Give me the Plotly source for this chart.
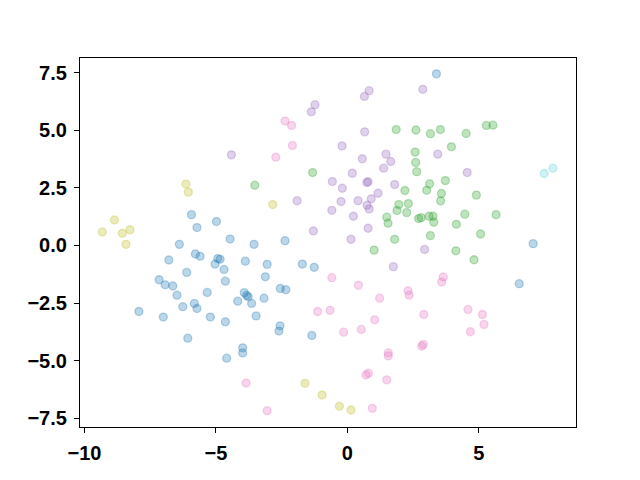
import plotly.graph_objects as go

# cluster points
blue_x = [-5.93, -5.72, -4.98, -4.46, -6.39, -3.55, -2.37, -5.78, -5.60, -6.79, -4.93, -4.84,
          -5.03, -3.88, -4.69, -6.11, -7.16, -6.93, -6.64, -4.64, -6.48, -5.33, -3.92, -3.83,
          -4.17, -6.26, -5.82, -5.72, -7.93, -7.00, -5.21, -4.64, -6.07, -3.98, -3.98, -4.59,
          -3.05, -3.12, -1.71, -1.26, -3.77, -3.64, -3.17, -2.55, -2.34, -3.47, -2.56, -2.60,
          -1.35, 3.39, 7.07, 6.54]
blue_y = [1.34, 0.78, 1.04, 0.28, 0.05, 0.05, 0.21, -0.37, -0.47, -0.63, -0.57, -0.60,
          -0.81, -0.68, -1.04, -1.17, -1.49, -1.71, -1.76, -1.55, -2.16, -2.04, -2.05, -2.17,
          -2.42, -2.66, -2.52, -2.74, -2.87, -3.11, -3.11, -3.32, -4.03, -4.45, -4.67, -4.90,
          -0.82, -1.36, -0.81, -0.95, -2.23, -2.52, -2.29, -1.87, -1.92, -3.06, -3.49, -3.72,
          -3.91, 7.46, 0.08, -1.66]

green_x = [-3.52, 1.86, -1.32, 2.19, 1.96, 1.89, 2.32, 2.26, 1.50, 1.55, 1.80, 2.61, 3.16,
           3.54, 4.52, 5.29, 5.54, 3.96, 2.58, 2.60, 2.64, 3.73, 3.13, 3.02, 3.58, 3.55, 4.91,
           2.71, 2.81, 3.11, 3.26, 3.29, 4.47, 5.66, 4.15, 3.16, 5.07, 1.02, 4.13, 4.82]
green_y = [2.62, 5.04, 3.17, 2.39, 1.78, 1.52, 1.82, 1.43, 1.23, 0.97, 0.27, 5.02, 4.86,
           5.04, 4.87, 5.22, 5.23, 4.29, 4.06, 3.61, 3.21, 2.82, 2.68, 2.40, 2.26, 1.94, 2.19,
           1.17, 1.21, 1.27, 1.27, 1.01, 1.36, 1.34, 0.92, 0.43, 0.50, -0.20, -0.23, -0.62]

purple_x = [-4.41, 0.83, 0.65, -1.23, -1.37, 0.66, -0.20, 0.57, 1.47, 1.65, 1.38, 0.19,
            -0.57, -0.19, 0.74, 0.79, 1.80, 1.17, 0.91, 0.41, -0.24, -1.91, 0.75, 0.83, -0.59,
            0.23, 0.79, -1.29, 0.14, 2.87, 3.44, 4.56, 1.75, 2.94]
purple_y = [3.94, 6.73, 6.48, 6.12, 5.81, 4.94, 4.33, 3.77, 3.97, 3.65, 3.36, 3.14,
            2.78, 2.49, 2.74, 2.77, 2.65, 2.27, 2.03, 1.95, 1.91, 1.95, 1.75, 1.59, 1.53,
            1.27, 0.75, 0.63, 0.27, 6.79, 3.97, 3.17, -0.92, -0.17]

pink_x = [-2.37, -2.12, -2.09, -2.72, -3.85, -0.59, 0.42, 1.23, 2.31, 2.35, -1.13, -0.66,
          1.04, 0.53, -0.14, 1.56, 1.56, 0.80, 0.71, 1.50, -3.05, 0.95, 3.65, 3.59, 2.91,
          4.59, 5.14, 5.20, 4.68, 2.89, 2.83]
pink_y = [5.41, 5.22, 4.35, 3.84, -5.98, -1.40, -1.73, -2.29, -1.97, -2.16, -2.87, -2.82,
          -3.23, -3.65, -3.77, -4.67, -4.80, -5.55, -5.63, -5.84, -7.18, -7.08, -1.37, -1.59,
          -3.00, -2.78, -3.00, -3.43, -3.75, -4.30, -4.38]

olive_x = [-6.14, -6.05, -8.86, -9.32, -8.56, -8.27, -8.42, -2.84, -1.61, -0.96, -0.30, 0.14]
olive_y = [2.67, 2.32, 1.11, 0.59, 0.53, 0.68, 0.05, 1.78, -5.99, -6.50, -6.99, -7.15]

cyan_x = [7.49, 7.82]
cyan_y = [3.13, 3.36]

groups = [
    (blue_x, blue_y, '31,119,180', 0.3),
    (green_x, green_y, '44,160,44', 0.3),
    (purple_x, purple_y, '148,103,189', 0.3),
    (pink_x, pink_y, '227,119,194', 0.3),
    (olive_x, olive_y, '188,189,34', 0.3),
    (cyan_x, cyan_y, '23,190,207', 0.2),
]

fig = go.Figure()
for xs, ys, rgb, a in groups:
    fig.add_trace(go.Scatter(
        x=xs, y=ys,
        mode='markers',
        marker=dict(size=8, color=f'rgba({rgb},{a})',
                    line=dict(color=f'rgba({rgb},{a})', width=1.3)),
        showlegend=False,
        hoverinfo='skip'
    ))

axis_style = dict(
    showgrid=False,
    zeroline=False,
    showline=True,
    linecolor='black',
    linewidth=1.2,
    mirror=True,
    ticks='outside',
    ticklen=5,
    tickwidth=1,
    tickcolor='black',
    automargin=False,
    tickfont=dict(family='Liberation Sans', size=20, color='black', weight='bold'),
)

# page body adds ~8px offset, margins account for it
fig.update_layout(
    width=640, height=480,
    plot_bgcolor='white',
    paper_bgcolor='white',
    margin=dict(l=72, r=72, t=50, b=61),
    xaxis=dict(range=[-10.17, 8.70], tickvals=[-10, -5, 0, 5],
               ticktext=['−10', '−5', '0', '5'], ticklabelstandoff=3, **axis_style),
    yaxis=dict(range=[-7.89, 8.15], tickvals=[-7.5, -5, -2.5, 0, 2.5, 5, 7.5],
               ticktext=['−7.5', '−5.0', '−2.5', '0.0', '2.5', '5.0', '7.5'],
               ticklabelstandoff=3, **axis_style),
)

fig.write_html("out.html")
